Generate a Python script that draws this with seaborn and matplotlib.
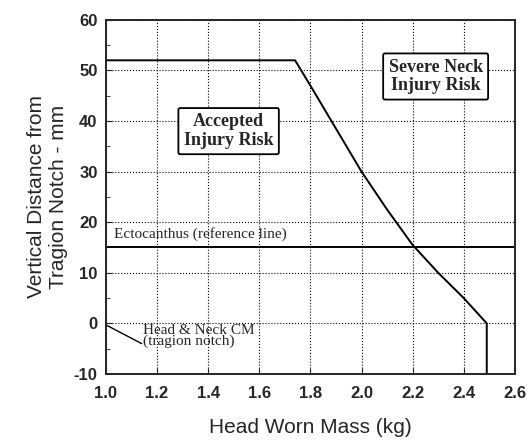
import numpy as np
import pandas as pd
import matplotlib.pyplot as plt
import seaborn as sns

# limit curve
mass = [1.0, 1.74, 1.8, 1.9, 2.0, 2.1, 2.2, 2.3, 2.4, 2.49, 2.49]
dist = [52, 52, 47, 38.5, 30, 22.5, 15.5, 10, 5, 0, -10]

# tragion notch pointer
cm_x = [1.0, 1.14]
cm_y = [-0.3, -4]

ref_level = 15
xticks = [1.0, 1.2, 1.4, 1.6, 1.8, 2.0, 2.2, 2.4, 2.6]
yticks = [-10, 0, 10, 20, 30, 40, 50, 60]

sns.set_style('ticks')
plt.rcParams['font.family'] = ['Liberation Sans', 'DejaVu Sans']
plt.rcParams['axes.unicode_minus'] = False

fig = plt.figure(figsize=(5.27, 4.41), dpi=100)
ax = fig.add_axes([0.201, 0.152, 0.776, 0.803])

df = pd.DataFrame({'mass': mass, 'dist': dist})
sns.lineplot(data=df, x='mass', y='dist', sort=False, estimator=None,
             color='black', lw=1.4, ax=ax)
sns.lineplot(x=cm_x, y=cm_y, sort=False, estimator=None, color='black', lw=1.0, ax=ax)
ax.axhline(ref_level, color='black', lw=1.4)

ax.set_xlim(1.0, 2.6)
ax.set_ylim(-10, 60)
ax.set_xticks(xticks)
ax.set_xticklabels(['%.1f' % t for t in xticks])
ax.set_yticks(yticks)
ax.set_yticks(np.arange(-5, 60, 10), minor=True)
ax.tick_params(direction='in', labelsize=12, length=4, pad=6)
ax.tick_params(axis='x', pad=9)
ax.tick_params(which='minor', direction='in', length=3)
for lbl in ax.get_xticklabels() + ax.get_yticklabels():
    lbl.set_fontweight('bold')
ax.grid(True, which='major', ls=':', color='black', lw=0.8)
for s in ax.spines.values():
    s.set_linewidth(1.4)

ax.set_xlabel('Head Worn Mass (kg)', fontsize=15, labelpad=12)
ax.set_ylabel('Vertical Distance from\nTragion Notch - mm', fontsize=15, labelpad=4)

serif = ['Liberation Serif', 'DejaVu Serif']
box = dict(boxstyle='round,pad=0.3,rounding_size=0.1', fc='white', ec='black', lw=1.3)
ax.text(1.48, 38, 'Accepted\nInjury Risk', family=serif, fontsize=13, fontweight='bold',
        ha='center', va='center', bbox=box, linespacing=1.1)
ax.text(2.29, 48.8, 'Severe Neck\nInjury Risk', family=serif, fontsize=13, fontweight='bold',
        ha='center', va='center', bbox=box, linespacing=1.1)
ax.text(1.03, 16.2, 'Ectocanthus (reference line)', family=serif, fontsize=11,
        ha='left', va='bottom')
ax.text(1.145, -2.5, 'Head & Neck CM\n(tragion notch)', family=serif, fontsize=11,
        ha='left', va='center', linespacing=0.7)

fig.savefig('out.png', dpi=100)
